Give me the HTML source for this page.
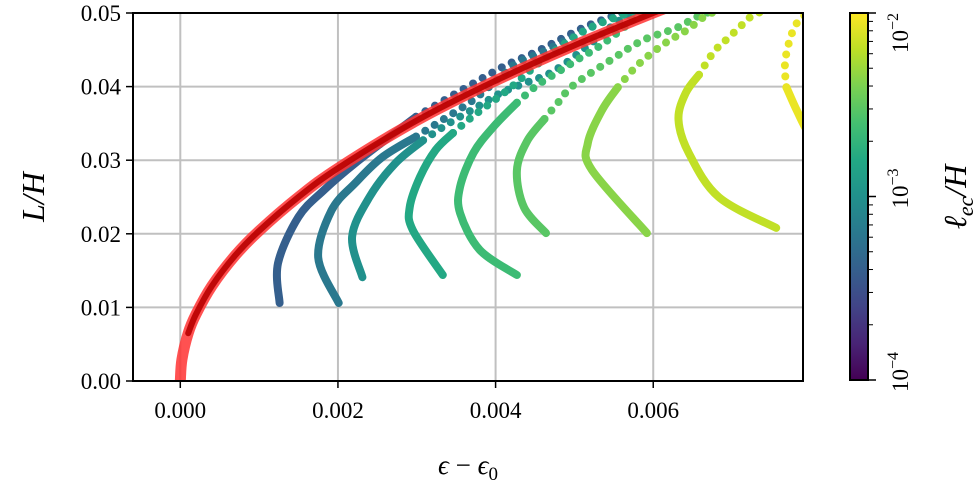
<!DOCTYPE html>
<html><head><meta charset="utf-8">
<style>
body{margin:0;background:#fff;}
svg{display:block;font-family:"Liberation Serif",serif;}
</style></head>
<body>
<svg id="chart" width="980" height="487" viewBox="0 0 980 487">
<defs>
<linearGradient id="viridis" x1="0" y1="1" x2="0" y2="0">
<stop offset="0" stop-color="#440154"/><stop offset="0.1" stop-color="#482475"/>
<stop offset="0.2" stop-color="#414487"/><stop offset="0.3" stop-color="#355f8d"/>
<stop offset="0.4" stop-color="#2a788e"/><stop offset="0.5" stop-color="#21918c"/>
<stop offset="0.6" stop-color="#22a884"/><stop offset="0.7" stop-color="#44bf70"/>
<stop offset="0.8" stop-color="#7ad151"/><stop offset="0.9" stop-color="#bddf26"/>
<stop offset="1" stop-color="#fde725"/>
</linearGradient>
<clipPath id="plotclip"><rect x="133" y="13" width="670" height="368"/></clipPath>
</defs>
<g id="grid"></g>
<g id="series" clip-path="url(#plotclip)"></g>
<rect x="133" y="13" width="670" height="368" fill="none" stroke="#000" stroke-width="2"/>
<g id="axes"></g>
<text x="468" y="474" font-size="27" text-anchor="middle"><tspan font-style="italic">ϵ</tspan> − <tspan font-style="italic">ϵ</tspan><tspan font-size="19" dy="6">0</tspan></text>
<text transform="translate(44,197) rotate(-90)" font-size="32" text-anchor="middle" font-style="italic">L/H</text>
<rect x="850" y="13" width="18" height="367" fill="url(#viridis)" stroke="#000" stroke-width="2"/>
<g id="cbar"></g>
<text transform="translate(966,197) rotate(-90)" font-size="32" text-anchor="middle" font-style="italic">ℓ<tspan font-size="22" dy="7">ec</tspan><tspan dy="-7">/H</tspan></text>
</svg>
<script>
const xTicks=[0,0.002,0.004,0.006];
const xTickLabels=["0.000","0.002","0.004","0.006"];
const yTicks=[0,0.01,0.02,0.03,0.04,0.05];
const yTickLabels=["0.00","0.01","0.02","0.03","0.04","0.05"];
const cbarTicks=[-4,-3,-2];
const redX=[0,0.00002,0.0001,0.0002,0.0004,0.0007,0.001,0.0015,0.002,0.003,0.004,0.005,0.006,0.0065];
const redY=[0,0.0029,0.0065,0.0091,0.0129,0.0171,0.0204,0.025,0.0289,0.0354,0.0408,0.0456,0.05,0.052];
const lec=[4e-4,6.3e-4,1e-3,1.6e-3,2.3e-3,3e-3,4.4e-3,6.5e-3,8.7e-3];
const curveX=[
[0.00126,0.00124,0.0015,0.00183,0.00222,0.00299,0.0035,0.00394,0.00419,0.00449,0.00478,0.00513,0.00551,0.0057],
[0.00201,0.00175,0.00192,0.00222,0.00256,0.00299,0.00333,0.00372,0.00406,0.00427,0.00458,0.00487,0.00522,0.00555,0.0058],
[0.00231,0.00218,0.0024,0.00273,0.00308,0.00342,0.00376,0.00406,0.00438,0.00465,0.00485,0.00506,0.00526,0.00545,0.00568,0.0059],
[0.00333,0.00295,0.00291,0.00304,0.00324,0.00346,0.00368,0.00394,0.00423,0.00455,0.00494,0.00526,0.00573,0.0061],
[0.00427,0.0038,0.00355,0.00355,0.00372,0.00397,0.00427,0.00453,0.00481,0.00506,0.00532,0.00558,0.00583,0.0062,0.0065],
[0.00464,0.00436,0.00427,0.0044,0.00462,0.00479,0.00499,0.00549,0.00587,0.0063,0.0066,0.0070],
[0.00592,0.00522,0.00517,0.00535,0.00555,0.00581,0.00615,0.00643,0.00668,0.0070,0.0073],
[0.00756,0.00683,0.00645,0.00632,0.00641,0.00658,0.00676,0.0069,0.00708,0.00727,0.0076],
[0.00832,0.0080,0.00782,0.00769,0.00767,0.00772,0.00782,0.00799,0.0082]
];
const curveY=[
[0.0106,0.016,0.0223,0.026,0.0296,0.0359,0.0391,0.0418,0.0432,0.0446,0.0462,0.0481,0.0497,0.0505],
[0.0106,0.0168,0.0232,0.0269,0.0304,0.0332,0.0355,0.0382,0.0413,0.0432,0.0446,0.0462,0.0481,0.0497,0.0505],
[0.0141,0.0196,0.025,0.0296,0.0327,0.0351,0.0372,0.0391,0.0405,0.0416,0.0429,0.0446,0.0463,0.048,0.0497,0.0505],
[0.0144,0.0205,0.0236,0.0277,0.0314,0.0337,0.0357,0.0378,0.0402,0.0432,0.0463,0.0483,0.0501,0.051],
[0.0144,0.0178,0.0228,0.0264,0.031,0.0345,0.0378,0.0402,0.0421,0.0438,0.0455,0.0476,0.0497,0.0505,0.051],
[0.0201,0.0236,0.0286,0.0326,0.0356,0.0378,0.0402,0.0438,0.0463,0.048,0.0497,0.051],
[0.0201,0.0287,0.0323,0.0368,0.0399,0.043,0.0459,0.0477,0.0497,0.051,0.052],
[0.0208,0.025,0.031,0.0355,0.0391,0.0416,0.0446,0.0461,0.0479,0.0497,0.051],
[0.0296,0.0332,0.0368,0.0399,0.0429,0.0459,0.0486,0.0503,0.052]
];
const denseCount=[6,6,5,6,7,5,5,6,4];
const X0=133,X1=803,Y0=381,Y1=13,xmin=-0.0006,xmax=0.0079,ymin=0,ymax=0.05;
const sx=v=>X0+(v-xmin)/(xmax-xmin)*(X1-X0);
const sy=v=>Y0-(v-ymin)/(ymax-ymin)*(Y0-Y1);
const CB0=380,CB1=13;
const scb=e=>CB0-(e+4)/2*(CB0-CB1);
const NS="http://www.w3.org/2000/svg";
function mk(tag,attrs,parent,txt){const e=document.createElementNS(NS,tag);for(const k in attrs)e.setAttribute(k,attrs[k]);if(txt!==undefined)e.textContent=txt;parent.appendChild(e);return e;}
const vir=["#440154","#482475","#414487","#355f8d","#2a788e","#21918c","#22a884","#44bf70","#7ad151","#bddf26","#fde725"];
function hex(h){return [1,3,5].map(i=>parseInt(h.substr(i,2),16));}
function viridis(t){t=Math.max(0,Math.min(1,t));const p=t*10,i=Math.min(9,Math.floor(p)),f=p-i;const a=hex(vir[i]),b=hex(vir[i+1]);return "rgb("+a.map((v,j)=>Math.round(v+(b[j]-v)*f)).join(",")+")";}
const grid=document.getElementById('grid'),axes=document.getElementById('axes'),series=document.getElementById('series'),cbar=document.getElementById('cbar');
xTicks.forEach((t,i)=>{
 const gl=mk('line',{x1:sx(t),x2:sx(t),y1:Y1,y2:Y0,stroke:'#c0c0c0','stroke-width':2},grid);
 
 
 const tk=mk('line',{x1:sx(t),x2:sx(t),y1:Y0,y2:Y0+7,stroke:'#000','stroke-width':1.5},axes);
 
 
 const lb=mk('text',{x:sx(t),y:Y0+37,'font-size':23,'text-anchor':'middle'},axes,xTickLabels[i]);
 
 
});
yTicks.forEach((t,i)=>{
 const gl=mk('line',{x1:X0,x2:X1,y1:sy(t),y2:sy(t),stroke:'#c0c0c0','stroke-width':2},grid);
 
 
 const tk=mk('line',{x1:X0-7,x2:X0,y1:sy(t),y2:sy(t),stroke:'#000','stroke-width':1.5},axes);
 
 
 const lb=mk('text',{x:X0-12,y:sy(t)+8,'font-size':23,'text-anchor':'end'},axes,yTickLabels[i]);
 
 
});
function smoothPath(xs,ys,a,b){
 const P=[];for(let i=a;i<b;i++)P.push([sx(xs[i]),sy(ys[i])]);
 let d="M"+P[0][0].toFixed(1)+","+P[0][1].toFixed(1);
 for(let i=0;i<P.length-1;i++){
  const p0=P[Math.max(0,i-1)],p1=P[i],p2=P[i+1],p3=P[Math.min(P.length-1,i+2)];
  const c1=[p1[0]+(p2[0]-p0[0])/6,p1[1]+(p2[1]-p0[1])/6],c2=[p2[0]-(p3[0]-p1[0])/6,p2[1]-(p3[1]-p1[1])/6];
  d+=" C"+c1[0].toFixed(1)+","+c1[1].toFixed(1)+" "+c2[0].toFixed(1)+","+c2[1].toFixed(1)+" "+p2[0].toFixed(1)+","+p2[1].toFixed(1);
 }
 return d;
}
curveX.forEach((xs,c)=>{
 const ys=curveY[c];
 const t=(Math.log10(lec[c])+4)/2;
 const col=viridis(t);
 const g=mk('g',{},series);
 
 
 const d=denseCount[c];
 const p1=mk('path',{d:smoothPath(xs,ys,0,d),fill:'none',stroke:col,'stroke-width':8,'stroke-linecap':'round','stroke-linejoin':'round'},g);
 
 
 const p2=mk('path',{d:smoothPath(xs,ys,d-1,xs.length),fill:'none',stroke:col,'stroke-width':8,'stroke-linecap':'round','stroke-dasharray':'0 11'},g);
 
 
});
const rl=mk('path',{d:smoothPath(redX,redY,0,redX.length),fill:'none',stroke:'rgba(255,50,50,0.85)','stroke-width':11,'stroke-linecap':'round','stroke-linejoin':'round'},series);


const rd=mk('path',{d:smoothPath(redX,redY,2,redX.length),fill:'none',stroke:'#b80000','stroke-width':6,'stroke-linecap':'round','stroke-linejoin':'round','opacity':0.9},series);


cbarTicks.forEach(e=>{
 const tk=mk('line',{x1:868,x2:876,y1:scb(e),y2:scb(e),stroke:'#000','stroke-width':1.5},cbar);
 
 
 const top=e===-2;
 const ty=top?13:scb(e)+12;
 const lb=mk('text',{transform:'translate(908,'+ty+') rotate(-90)','font-size':23,'text-anchor':top?'end':'start'},cbar);
 
 
 lb.innerHTML='10<tspan font-size="16" dy="-10">−'+(-e)+'</tspan>';
 if(e<-2){for(let m=2;m<10;m++){const v=e+Math.log10(m);const mt=mk('line',{x1:868,x2:873,y1:scb(v),y2:scb(v),stroke:'#000','stroke-width':1},cbar);
 
 }}
});
</script>
</body></html>
